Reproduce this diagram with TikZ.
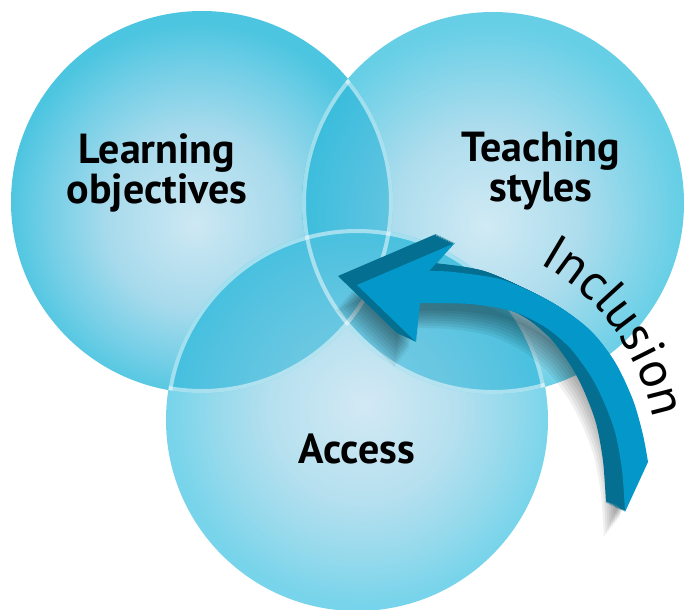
\documentclass[tikz,border=0pt]{standalone}
\usepackage{fontspec}
\setmainfont{PT Sans}
\usetikzlibrary{decorations.text}
\definecolor{arrowtop}{HTML}{0398C9}
\definecolor{arrowside}{HTML}{046F91}
\definecolor{lensblue}{HTML}{08A8D2}
\definecolor{cLa}{HTML}{CDE8F3}
\definecolor{cLb}{HTML}{A6DAEC}
\definecolor{cLc}{HTML}{70CEE6}
\definecolor{cLd}{HTML}{4CC5E0}
\definecolor{cTa}{HTML}{D0EAF4}
\definecolor{cTb}{HTML}{AEDDED}
\definecolor{cTc}{HTML}{82D4E9}
\definecolor{cTd}{HTML}{66CFE6}
\definecolor{cAa}{HTML}{D2E9F4}
\definecolor{cAb}{HTML}{B6E0EF}
\definecolor{cAc}{HTML}{92D9EC}
\definecolor{cAd}{HTML}{78D4EA}
\pgfdeclareradialshading{circL}{\pgfpoint{-1bp}{-3bp}}{color(0bp)=(cLa); color(12bp)=(cLb); color(20bp)=(cLc); color(25bp)=(cLd); color(50bp)=(cLd)}
\pgfdeclareradialshading{circT}{\pgfpoint{-1bp}{-3bp}}{color(0bp)=(cTa); color(12bp)=(cTb); color(20bp)=(cTc); color(25bp)=(cTd); color(50bp)=(cTd)}
\pgfdeclareradialshading{circA}{\pgfpoint{1bp}{2bp}}{color(0bp)=(cAa); color(12bp)=(cAb); color(20bp)=(cAc); color(25bp)=(cAd); color(50bp)=(cAd)}
\begin{document}
\begin{tikzpicture}[x=1pt,y=-1pt,
  lbl/.style={font=\fontsize{42}{40}\selectfont\bfseries, align=center, inner sep=0pt, text=black},
  lens/.style={fill=lensblue, fill opacity=0.45},
  ring/.style={draw=white, draw opacity=0.5, line width=4pt}]
\useasboundingbox (0,0) rectangle (688,610);
\def\R{191}
\coordinate (cL) at (202,202);
\coordinate (cT) at (493,203);
\coordinate (cA) at (357,420);
% circles
\shade[shading=circL] (cL) circle (\R);
\shade[shading=circT] (cT) circle (\R);
\shade[shading=circA] (cA) circle (\R);
% overlaps
\begin{scope}
  \clip (cL) circle (\R);
  \fill[lens] (cT) circle (\R) (cA) circle (\R);
\end{scope}
\begin{scope}
  \clip (cT) circle (\R);
  \clip (cA) circle (\R);
  \fill[lens, even odd rule] (-10,-10) rectangle (700,620) (cL) circle (\R);
\end{scope}
% rings, visible only inside the other circles
\begin{scope}
  \clip (cT) circle (\R) (cA) circle (\R);
  \draw[ring] (cL) circle (\R-2);
\end{scope}
\begin{scope}
  \clip (cL) circle (\R) (cA) circle (\R);
  \draw[ring] (cT) circle (\R-2);
\end{scope}
\begin{scope}
  \clip (cL) circle (\R) (cT) circle (\R);
  \draw[ring] (cA) circle (\R-2);
\end{scope}
% labels
\node[lbl] (lo) at (157,173) {Learning\\objectives};
\node[lbl] (ts) at (541,171) {Teaching\\styles};
\node[lbl, anchor=base] (ac) at (357,463) {Access};
% arrow shadow
\foreach \k in {1,...,8}{
  \fill[black, opacity=0.06, shift={(-5-2*\k,5+2.5*\k)}]
    (357,285) -- (455,243) -- (429,271)
    -- plot[smooth] coordinates {(429,271) (453,272) (503,280) (553,303) (590,330) (615,362) (633,400) (643,435) (648,462)}
    -- (625,512)
    -- plot[smooth] coordinates {(625,512) (622,470) (615,432) (603,400) (590,375) (570,348) (545,327) (512,311) (470,304) (420,303)}
    -- (416,342) -- cycle;
}
% arrow extrusion
\foreach \k in {20,19,...,1}{
  \fill[arrowside, shift={({-19*\k/20},{-9*\k/20})}]
    (357,285) -- (455,243) -- (429,271)
    -- plot[smooth] coordinates {(429,271) (453,272) (503,280) (553,303) (590,330) (615,362) (633,400) (643,435) (648,462)}
    -- (625,512)
    -- plot[smooth] coordinates {(625,512) (622,470) (615,432) (603,400) (590,375) (570,348) (545,327) (512,311) (470,304) (420,303)}
    -- (416,342) -- cycle;
}
% arrow top face
\fill[arrowtop]
    (357,285) -- (455,243) -- (429,271)
    -- plot[smooth] coordinates {(429,271) (453,272) (503,280) (553,303) (590,330) (615,362) (633,400) (643,435) (648,462)}
    -- (625,512)
    -- plot[smooth] coordinates {(625,512) (622,470) (615,432) (603,400) (590,375) (570,348) (545,327) (512,311) (470,304) (420,303)}
    -- (416,342) -- cycle;
% Inclusion
\coordinate (ic) at (430,462);
\path[decorate, decoration={text along path, text align=center,
  text={|\fontsize{51}{51}\selectfont|Inclusion}}]
  (ic) ++(-78:227) arc (-78:6:227);
\end{tikzpicture}
\end{document}
